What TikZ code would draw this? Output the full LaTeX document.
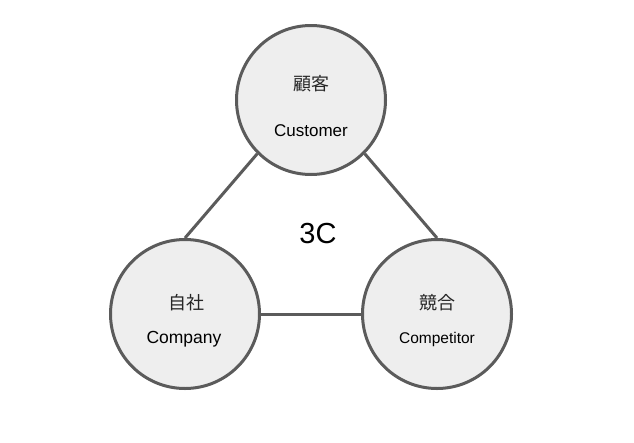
\documentclass[tikz,border=0pt]{standalone}
\usepackage{fontspec}
\setmainfont{Liberation Sans}
\newfontfamily\jpfont{Noto Sans CJK JP}
\usepackage{tikz}
\definecolor{rim}{HTML}{5B5B5B}
\definecolor{disc}{HTML}{EEEEEE}
\tikzset{
  ball/.style={circle, draw=rim, fill=disc, line width=3pt, minimum size=149pt, inner sep=0pt},
  link/.style={draw=rim, line width=3pt},
  jp/.style={font=\jpfont\fontsize{18}{20}\selectfont, text=black!85, inner sep=0pt},
  en/.style={font=\fontsize{#1}{#1}\selectfont, inner sep=0pt}
}

\begin{document}
\begin{tikzpicture}[x=1pt, y=-1pt]
\useasboundingbox (0,0) rectangle (634,442);
\node[ball] (customer) at (311,100) {};
\node[ball] (company) at (185,314) {};
\node[ball] (competitor) at (437,314) {};
\draw[link] (company.north) -- (customer.225);
\draw[link] (customer.315) -- (competitor.north);
\draw[link] (company.east) -- (competitor.west);
\node[jp] (customerjp) at (311,84) {顧客};
\node[en=17] (customeren) at (311,131) {Customer};
\node[jp] (companyjp) at (186,303) {自社};
\node[en=17.5] (companyen) at (184,339) {Company};
\node[jp] (competitorjp) at (437,303) {競合};
\node[en=15.5] (competitoren) at (437,339) {Competitor};
\node[en=29] (title) at (318,234) {3C};
\end{tikzpicture}
\end{document}
